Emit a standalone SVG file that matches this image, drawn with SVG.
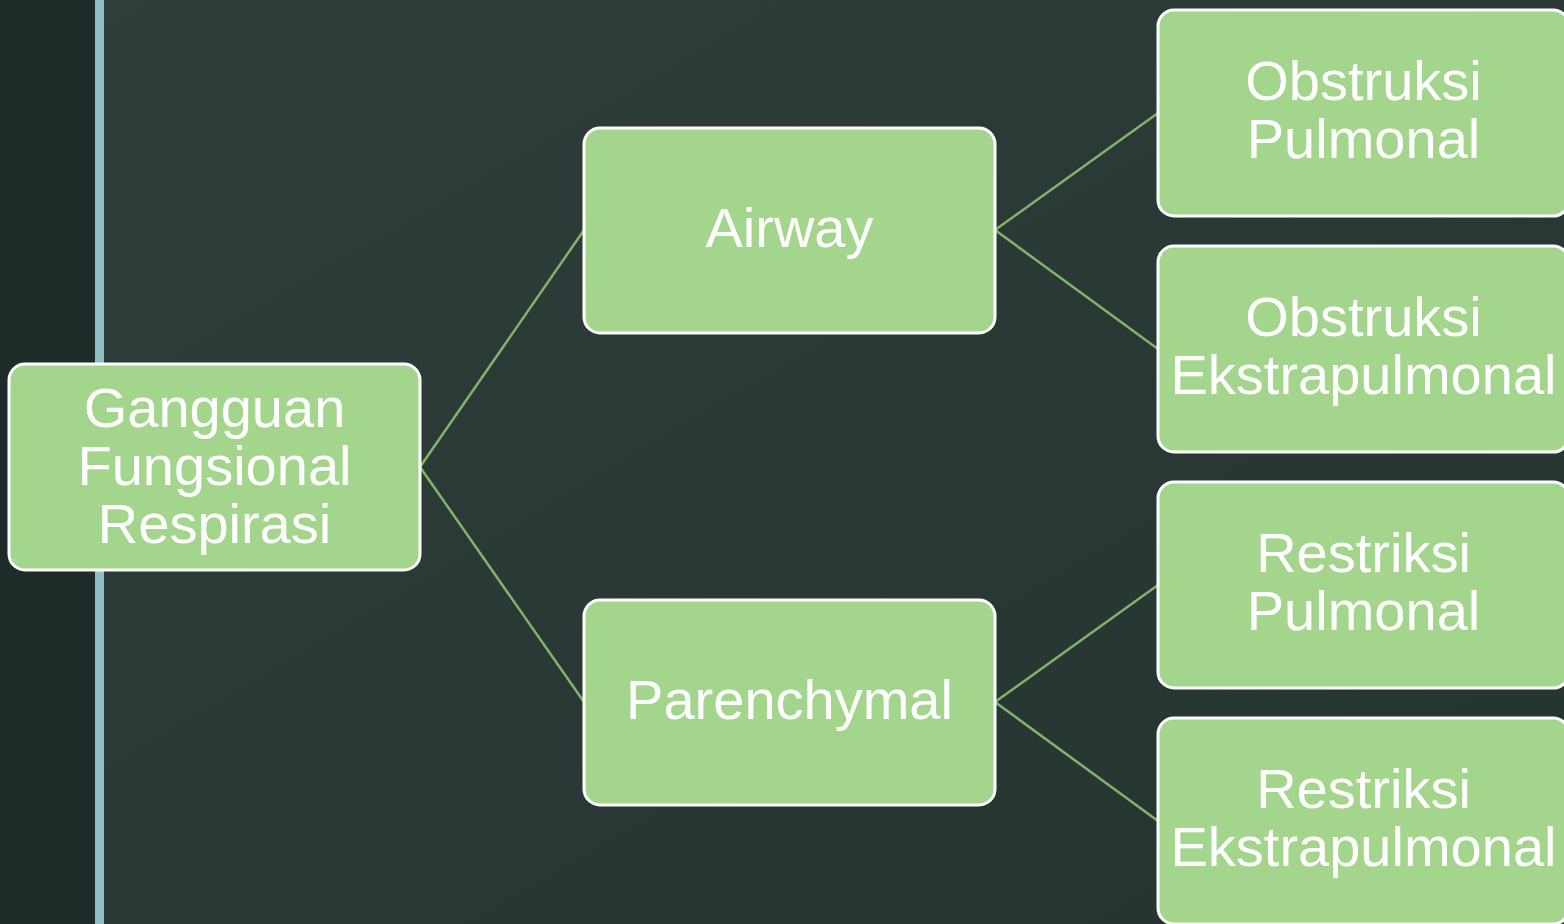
<svg xmlns="http://www.w3.org/2000/svg" width="1564" height="924" viewBox="0 0 1564 924">
<defs>
<linearGradient id="bg" x1="0" y1="0" x2="1" y2="1">
<stop offset="0" stop-color="#2f3e3b"/>
<stop offset="1" stop-color="#263430"/>
</linearGradient>
<style>
.node rect{fill:#a3d68c;stroke:#ffffff;stroke-width:3}
.node text{fill:#ffffff;font-family:"Liberation Sans",Arial,sans-serif;font-size:56px;text-anchor:middle}
.conn line{stroke:#80b46b;stroke-width:2.5}
</style>
</defs>
<rect x="0" y="0" width="1564" height="924" fill="url(#bg)"/>
<rect x="0" y="0" width="95" height="924" fill="#1f2b28"/>
<rect x="95" y="0" width="9" height="924" fill="#8dbfc4"/>
<g id="connectors" class="conn">
<line x1="420" y1="467" x2="584" y2="230"/>
<line x1="420" y1="467" x2="584" y2="702"/>
<line x1="995" y1="230" x2="1158" y2="113"/>
<line x1="995" y1="230" x2="1158" y2="349"/>
<line x1="995" y1="702" x2="1158" y2="585"/>
<line x1="995" y1="702" x2="1158" y2="821"/>
</g>
<g id="root" class="node">
<rect x="9" y="364" width="411" height="206" rx="16"/>
<text><tspan x="214.5" y="427">Gangguan</tspan><tspan x="214.5" y="485">Fungsional</tspan><tspan x="214.5" y="543">Respirasi</tspan></text>
</g>
<g id="airway" class="node">
<rect x="584" y="128" width="411" height="205" rx="16"/>
<text x="789.5" y="247">Airway</text>
</g>
<g id="parenchymal" class="node">
<rect x="584" y="600" width="411" height="205" rx="16"/>
<text x="789.5" y="719">Parenchymal</text>
</g>
<g id="obstruksi-pulmonal" class="node">
<rect x="1158" y="10" width="411" height="206" rx="16"/>
<text><tspan x="1363.5" y="100">Obstruksi</tspan><tspan x="1363.5" y="158">Pulmonal</tspan></text>
</g>
<g id="obstruksi-ekstrapulmonal" class="node">
<rect x="1158" y="246" width="411" height="206" rx="16"/>
<text><tspan x="1363.5" y="336">Obstruksi</tspan><tspan x="1363.5" y="394">Ekstrapulmonal</tspan></text>
</g>
<g id="restriksi-pulmonal" class="node">
<rect x="1158" y="482" width="411" height="206" rx="16"/>
<text><tspan x="1363.5" y="572">Restriksi</tspan><tspan x="1363.5" y="630">Pulmonal</tspan></text>
</g>
<g id="restriksi-ekstrapulmonal" class="node">
<rect x="1158" y="718" width="411" height="206" rx="16"/>
<text><tspan x="1363.5" y="808">Restriksi</tspan><tspan x="1363.5" y="866">Ekstrapulmonal</tspan></text>
</g>
</svg>
